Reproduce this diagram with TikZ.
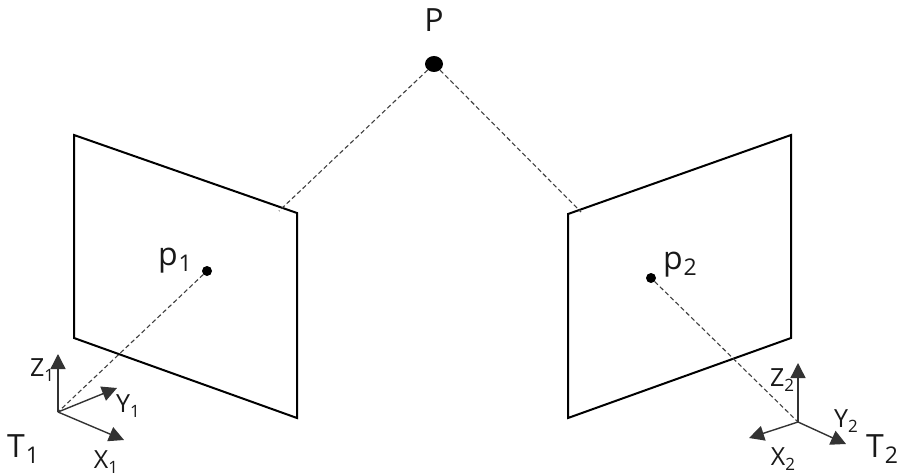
\documentclass[tikz,border=0pt]{standalone}
\usepackage{fontspec}
\setmainfont{Open Sans}
\usetikzlibrary{arrows.meta,shapes.geometric}
\newcommand{\bigsub}[2]{{\fontsize{32}{32}\selectfont #1}\kern1pt\raisebox{-6pt}{\fontsize{23}{23}\selectfont #2}}
\newcommand{\smallsub}[2]{{\fontsize{25}{25}\selectfont #1}\raisebox{-5pt}{\fontsize{17}{17}\selectfont #2}}
\tikzset{
  plane/.style={draw=black,line width=2pt,line join=miter},
  ray/.style={draw=black!75,line width=1.1pt,dash pattern=on 4.5pt off 2.8pt},
  axis/.style={draw=black!80,line width=1.4pt,-{Triangle[length=15pt,width=15pt]}},
  dot/.style={circle,fill=black,inner sep=0pt,minimum size=#1},
  lab/.style={inner sep=0pt,text=black!90,anchor=center}
}
\begin{document}
\begin{tikzpicture}[x=1pt,y=-1pt]
\useasboundingbox (0,0) rectangle (899,476);
\fill[white] (0,0) rectangle (899,476);
% planes
\coordinate (a1) at (74,135); \coordinate (a2) at (297,213);
\coordinate (a3) at (297,418); \coordinate (a4) at (74,338);
\coordinate (b1) at (568,214); \coordinate (b2) at (791,135);
\coordinate (b3) at (791,338); \coordinate (b4) at (568,418);
\draw[plane] (a1) -- (a2) -- (a3) -- (a4) -- cycle;
\draw[plane] (b1) -- (b2) -- (b3) -- (b4) -- cycle;
% points
\node[ellipse,fill=black,inner sep=0pt,minimum width=18pt,minimum height=16pt] (P) at (434,64) {};
\node[dot=10pt] (p1) at (207,271) {};
\node[dot=10pt] (p2) at (651,278) {};
\coordinate (o1) at (58,412);
\coordinate (o2) at (798,422);
\coordinate (e1) at (279,211);
\coordinate (e2) at (581,212);
% rays
\draw[ray] (P) -- (e1);
\draw[ray] (P) -- (e2);
\draw[ray] (p1) -- (o1);
\draw[ray] (p2) -- (o2);
% axes
\coordinate (z1) at (58,354); \coordinate (y1) at (117,388); \coordinate (x1) at (124,440);
\coordinate (z2) at (798,363); \coordinate (x2) at (749,438); \coordinate (y2) at (846,444);
\draw[axis] (o1) -- (z1);
\draw[axis] (o1) -- (y1);
\draw[axis] (o1) -- (x1);
\draw[axis] (o2) -- (z2);
\draw[axis] (o2) -- (x2);
\draw[axis] (o2) -- (y2);
% labels
\node[lab] (tP) at (434,20) {\fontsize{32}{32}\selectfont P};
\node[lab] (tp1) at (175,261) {\bigsub{p}{1}};
\node[lab] (tp2) at (680,265) {\bigsub{p}{2}};
\node[lab] (tT1) at (23,449) {\bigsub{T}{1}};
\node[lab] (tT2) at (882,449) {\bigsub{T}{2}};
\node[lab] (tZ1) at (42,370) {\smallsub{Z}{1}};
\node[lab] (tY1) at (128,406) {\smallsub{Y}{1}};
\node[lab] (tX1) at (106,462) {\smallsub{X}{1}};
\node[lab] (tZ2) at (782,380) {\smallsub{Z}{2}};
\node[lab] (tY2) at (846,421) {\smallsub{Y}{2}};
\node[lab] (tX2) at (783,459) {\smallsub{X}{2}};
\end{tikzpicture}
\end{document}
